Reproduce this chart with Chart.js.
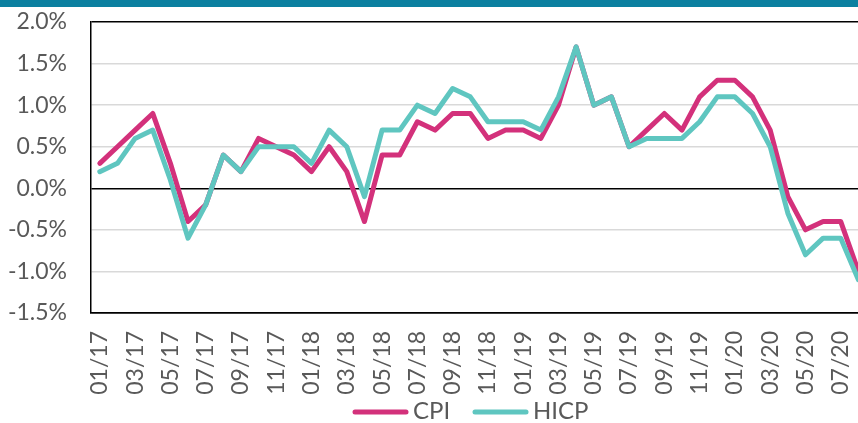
<!DOCTYPE html>
<html>
<head>
<meta charset="utf-8">
<script src="https://cdn.jsdelivr.net/npm/chart.js@4/dist/chart.umd.min.js"></script>
<style>
html, body { margin: 0; padding: 0; overflow: hidden; background: #fff; }
#wrap { width: 904px; height: 423px; position: relative; }
</style>
</head>
<body>
<div id="wrap"><canvas id="c"></canvas></div>
<script>
const months = ["01/17","02/17","03/17","04/17","05/17","06/17","07/17","08/17","09/17","10/17","11/17","12/17",
  "01/18","02/18","03/18","04/18","05/18","06/18","07/18","08/18","09/18","10/18","11/18","12/18",
  "01/19","02/19","03/19","04/19","05/19","06/19","07/19","08/19","09/19","10/19","11/19","12/19",
  "01/20","02/20","03/20","04/20","05/20","06/20","07/20","08/20"];
const cpi = [0.3,0.5,0.7,0.9,0.3,-0.4,-0.2,0.4,0.2,0.6,0.5,0.4,
  0.2,0.5,0.2,-0.4,0.4,0.4,0.8,0.7,0.9,0.9,0.6,0.7,
  0.7,0.6,1.0,1.7,1.0,1.1,0.5,0.7,0.9,0.7,1.1,1.3,
  1.3,1.1,0.7,-0.1,-0.5,-0.4,-0.4,-1.0];
const hicp = [0.2,0.3,0.6,0.7,0.1,-0.6,-0.2,0.4,0.2,0.5,0.5,0.5,
  0.3,0.7,0.5,-0.1,0.7,0.7,1.0,0.9,1.2,1.1,0.8,0.8,
  0.8,0.7,1.1,1.7,1.0,1.1,0.5,0.6,0.6,0.6,0.8,1.1,
  1.1,0.9,0.5,-0.3,-0.8,-0.6,-0.6,-1.1];
const yMin = -1.5, yMax = 2.0, yStep = 0.5;
const seriesNames = ["CPI", "HICP"];
const colors = ["#d3317b", "#5fc6c0"];
const textColor = "#595959";
const fontFamily = "Lato, 'Noto Sans', sans-serif";

const decor = {
  id: 'decor',
  beforeDraw(chart) {
    const ctx = chart.ctx;
    ctx.save();
    ctx.fillStyle = '#0b80a0';
    ctx.fillRect(0, 0, chart.width, 7);
    ctx.restore();
  },
  afterDraw(chart) {
    const ctx = chart.ctx;
    ctx.save();
    ctx.font = "24px " + fontFamily;
    ctx.textBaseline = 'middle';
    ctx.lineCap = 'round';
    ctx.lineWidth = 5;
    const y = 412;
    const starts = [355, 475];
    chart.data.datasets.forEach((ds, i) => {
      const x = starts[i];
      ctx.strokeStyle = ds.borderColor;
      ctx.beginPath();
      ctx.moveTo(x, y);
      ctx.lineTo(x + 51, y);
      ctx.stroke();
      ctx.fillStyle = textColor;
      ctx.textAlign = 'left';
      ctx.fillText(ds.label, x + 58, y - 1);
    });
    ctx.restore();
  }
};

new Chart(document.getElementById('c'), {
  type: 'line',
  data: {
    labels: months,
    datasets: [
      { label: seriesNames[0], data: cpi, borderColor: colors[0], backgroundColor: colors[0], borderWidth: 5, pointRadius: 0, tension: 0, order: 1, borderJoinStyle: 'round', borderCapStyle: 'round' },
      { label: seriesNames[1], data: hicp, borderColor: colors[1], backgroundColor: colors[1], borderWidth: 5, pointRadius: 0, tension: 0, order: 0, borderJoinStyle: 'round', borderCapStyle: 'round' }
    ]
  },
  options: {
    responsive: true,
    maintainAspectRatio: false,
    animation: false,
    devicePixelRatio: 1,
    layout: { padding: { top: 22, left: 0, right: 0, bottom: 0 } },
    plugins: { legend: { display: false }, tooltip: { enabled: false } },
    scales: {
      x: {
        offset: true,
        grid: { display: false, drawTicks: false },
        border: { display: true, color: '#000', width: 1.5 },
        ticks: {
          autoSkip: false, maxRotation: 90, minRotation: 90, padding: 18,
          color: textColor, font: { family: fontFamily, size: 23 },
          callback: function(v, i) { return i % 2 === 0 ? months[i] : ''; }
        },
        afterFit(scale) { scale.height = 110; }
      },
      y: {
        min: yMin, max: yMax,
        grid: {
          drawTicks: true,
          tickLength: 24,
          tickColor: 'rgba(0,0,0,0)',
          lineWidth: 1.5,
          color: (c) => (Math.abs(c.tick.value) < 1e-9 || Math.abs(c.tick.value - yMax) < 1e-9 || Math.abs(c.tick.value - yMin) < 1e-9) ? '#000' : '#d9d9d9'
        },
        border: { display: true, color: '#000', width: 1.5 },
        ticks: {
          stepSize: yStep, padding: 0, color: textColor,
          font: { family: fontFamily, size: 23 },
          callback: (v) => v.toFixed(1) + '%'
        },
        afterFit(scale) { scale.width = 91; }
      }
    }
  },
  plugins: [decor]
});
</script>
</body>
</html>
